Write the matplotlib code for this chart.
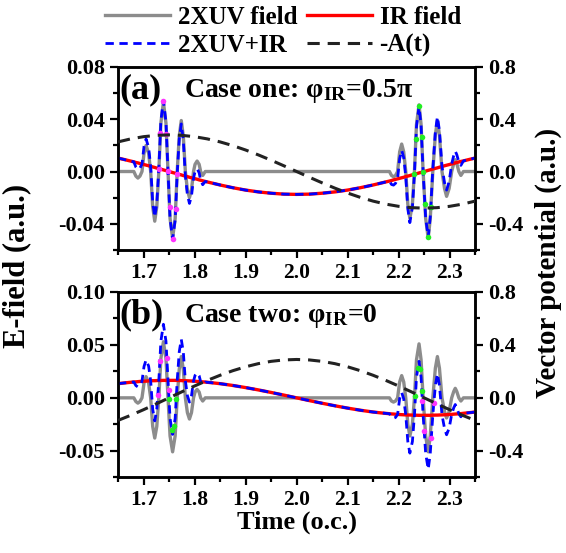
import numpy as np
import matplotlib.pyplot as plt
from matplotlib.ticker import MultipleLocator

plt.rcParams['font.family'] = ['Liberation Serif', 'DejaVu Serif']
plt.rcParams['font.weight'] = 'bold'
plt.rcParams['mathtext.fontset'] = 'custom'
plt.rcParams['mathtext.rm'] = 'Liberation Serif:bold'
plt.rcParams['mathtext.bf'] = 'Liberation Serif:bold'
plt.rcParams['mathtext.it'] = 'Liberation Serif:bold'

# time axis (o.c.): sparse outside the two XUV pulses, dense inside them
time_pts = [1.650, 1.665,
            1.681, 1.685, 1.689, 1.693, 1.697, 1.701, 1.705, 1.710, 1.714, 1.718, 1.722, 1.726,
            1.730, 1.734, 1.739, 1.744, 1.748, 1.752, 1.757, 1.762, 1.766, 1.770, 1.774, 1.778,
            1.782, 1.786, 1.790, 1.794, 1.798, 1.801, 1.805, 1.809, 1.812, 1.816, 1.821,
            1.835, 1.850, 1.875, 1.900, 1.925, 1.950, 1.975, 2.000, 2.025, 2.050, 2.075, 2.100,
            2.125, 2.150, 2.165,
            2.182, 2.186, 2.190, 2.194, 2.198, 2.202, 2.206, 2.210, 2.214, 2.218, 2.222, 2.227,
            2.231, 2.235, 2.240, 2.244, 2.248, 2.253, 2.258, 2.262, 2.267, 2.272, 2.276, 2.280,
            2.285, 2.290, 2.294, 2.299, 2.304, 2.308, 2.311, 2.314, 2.318, 2.322, 2.327,
            2.335, 2.350]

# 2XUV field (a.u.)
xuv_field = [0, 0,
             0, -0.0035, -0.005, -0.0035, 0, 0.014, 0.020, 0.014, 0, -0.027, -0.038, -0.027,
             0, 0.037, 0.053, 0.037, 0, -0.036, -0.051, -0.036, 0, 0.027, 0.039, 0.027,
             0, -0.014, -0.020, -0.014, 0, 0.0055, 0.008, 0.0055, 0, -0.003, 0,
             0, 0, 0, 0, 0, 0, 0, 0, 0, 0, 0, 0,
             0, 0, 0,
             0, -0.003, -0.004, -0.003, 0, 0.015, 0.021, 0.015, 0, -0.025, -0.036, -0.025,
             0, 0.036, 0.051, 0.036, 0, -0.036, -0.051, -0.036, 0, 0.028, 0.039, 0.028,
             0, -0.013, -0.019, -0.013, 0, 0.006, 0.009, 0.006, 0, -0.003, 0,
             0, 0]

# IR field, case one (phi_IR = 0.5 pi)
ir_field_a = [0.0103, 0.0089,
              0.0074, 0.0069, 0.0066, 0.0061, 0.0057, 0.0053, 0.0049, 0.0044, 0.0039, 0.0035,
              0.0031, 0.0026, 0.0022, 0.0018, 0.0012, 0.0007, 0.0002, -0.0002, -0.0008,
              -0.0013, -0.0018, -0.0022, -0.0026, -0.0031, -0.0035, -0.0039, -0.0044, -0.0048,
              -0.0052, -0.0055, -0.0059, -0.0064, -0.0067, -0.0071, -0.0076,
              -0.0089, -0.0103, -0.0124, -0.0142, -0.0156, -0.0166, -0.0173, -0.0175, -0.0173,
              -0.0166, -0.0156, -0.0142, -0.0124, -0.0103, -0.0089,
              -0.0073, -0.0069, -0.0064, -0.0060, -0.0056, -0.0052, -0.0048, -0.0044, -0.0039,
              -0.0035, -0.0031, -0.0025, -0.0021, -0.0017, -0.0011, -0.0007, -0.0002, 0.0003,
              0.0009, 0.0013, 0.0019, 0.0024, 0.0028, 0.0033, 0.0038, 0.0044, 0.0048, 0.0053,
              0.0058, 0.0062, 0.0066, 0.0069, 0.0073, 0.0077, 0.0081,
              0.0089, 0.0103]

# IR field, case two (phi_IR = 0)
ir_field_b = [0.0134, 0.0142,
              0.0150, 0.0151, 0.0153, 0.0155, 0.0156, 0.0157, 0.0158, 0.0160, 0.0161, 0.0162,
              0.0162, 0.0163, 0.0164, 0.0164, 0.0165, 0.0165, 0.0165, 0.0165, 0.0165, 0.0165,
              0.0164, 0.0164, 0.0163, 0.0162, 0.0162, 0.0161, 0.0160, 0.0159, 0.0158, 0.0157,
              0.0155, 0.0154, 0.0153, 0.0151, 0.0149,
              0.0142, 0.0134, 0.0117, 0.0097, 0.0075, 0.0051, 0.0026, 0.0, -0.0026, -0.0051,
              -0.0075, -0.0097, -0.0117, -0.0134, -0.0142,
              -0.0150, -0.0152, -0.0153, -0.0155, -0.0156, -0.0158, -0.0159, -0.0160, -0.0161,
              -0.0162, -0.0162, -0.0163, -0.0164, -0.0164, -0.0165, -0.0165, -0.0165, -0.0165,
              -0.0165, -0.0165, -0.0164, -0.0163, -0.0163, -0.0162, -0.0161, -0.0160, -0.0159,
              -0.0157, -0.0156, -0.0154, -0.0153, -0.0152, -0.0150, -0.0149, -0.0146,
              -0.0142, -0.0134]

# -A(t) on the right axis
time_vp = [1.650, 1.675, 1.700, 1.725, 1.750, 1.775, 1.800, 1.825, 1.850, 1.875, 1.900,
           1.925, 1.950, 1.975, 2.000, 2.025, 2.050, 2.075, 2.100, 2.125, 2.150, 2.175,
           2.200, 2.225, 2.250, 2.275, 2.300, 2.325, 2.350]
neg_vp_a = [0.2265, 0.2495, 0.2663, 0.2766, 0.2800, 0.2766, 0.2663, 0.2495, 0.2265, 0.1980,
            0.1646, 0.1271, 0.0865, 0.0438, 0.0, -0.0438, -0.0865, -0.1271, -0.1646, -0.1980,
            -0.2265, -0.2495, -0.2663, -0.2766, -0.2800, -0.2766, -0.2663, -0.2495, -0.2265]
neg_vp_b = [-0.1705, -0.1317, -0.0896, -0.0454, 0.0, 0.0454, 0.0896, 0.1317, 0.1705, 0.2051,
            0.2346, 0.2584, 0.2758, 0.2864, 0.2900, 0.2864, 0.2758, 0.2584, 0.2346, 0.2051,
            0.1705, 0.1317, 0.0896, 0.0454, 0.0, -0.0454, -0.0896, -0.1317, -0.1705]

# instants marked on the 2XUV+IR curve
mark_a_magenta = [1.739, 1.733, 1.745, 1.730, 1.748, 1.766, 1.751, 1.763, 1.757]
mark_a_green = [2.240, 2.234, 2.245, 2.231, 2.248, 2.2515, 2.263, 2.258]
mark_b_magenta = [1.732, 1.7457, 1.728, 1.749, 2.2465, 2.269, 2.250, 2.264]
mark_b_green = [1.750, 1.764, 1.7555, 1.7595, 2.238, 2.242, 2.233, 2.2455]

t = np.array(time_pts)
xuv = np.array(xuv_field)

fig = plt.figure(figsize=(5.66, 5.53), dpi=100)
ax_a = fig.add_axes([0.2085, 0.548, 0.631, 0.331])
ax_b = fig.add_axes([0.2085, 0.137, 0.631, 0.335])

panels = [
    (ax_a, np.array(ir_field_a), neg_vp_a, (-0.06, 0.08), 0.04, 0.02, '(a)',
     r'Case one: φ$_{\mathrm{IR}}$=0.5π', mark_a_magenta, mark_a_green),
    (ax_b, np.array(ir_field_b), neg_vp_b, (-0.075, 0.10), 0.05, 0.025, '(b)',
     r'Case two: φ$_{\mathrm{IR}}$=0', mark_b_magenta, mark_b_green),
]

for ax, ir, vp, ylim, major, minor, tag, title, m_mag, m_grn in panels:
    total = xuv + ir
    ax.plot(t, xuv, color='#8c8c8c', lw=2.4, zorder=2)
    ax.plot(t, ir, color='#ff0000', lw=2.4, zorder=3)
    ax.plot(t, total, color='#0000ff', lw=2.0, ls=(0, (3, 2)), zorder=4)
    ax.plot(m_mag, np.interp(m_mag, t, total), 'o', color='#ff33ff', ms=4, mec='none', zorder=6)
    ax.plot(m_grn, np.interp(m_grn, t, total), 'o', color='#22ee22', ms=4, mec='none', zorder=6)

    ax.set_xlim(1.65, 2.35)
    ax.set_ylim(*ylim)
    ax.xaxis.set_major_locator(MultipleLocator(0.1))
    ax.xaxis.set_minor_locator(MultipleLocator(0.05))
    ax.yaxis.set_major_locator(MultipleLocator(major))
    ax.yaxis.set_minor_locator(MultipleLocator(minor))
    ax.yaxis.set_major_formatter(plt.FormatStrFormatter('%.2f'))
    ax.tick_params(which='both', direction='out', top=False, right=False, labelsize=16, width=1.6)
    ax.tick_params(axis='x', labelsize=15.5)
    ax.tick_params(which='major', length=6)
    ax.tick_params(which='minor', length=3.5)
    for s in ax.spines.values():
        s.set_linewidth(1.8)

    ax2 = ax.twinx()
    ax2.plot(time_vp, vp, color='#222222', lw=2.2, ls=(0, (4, 2.6)), zorder=5)
    ax2.set_ylim(-0.6, 0.8)
    ax2.yaxis.set_major_locator(MultipleLocator(0.4))
    ax2.yaxis.set_minor_locator(MultipleLocator(0.2))
    ax2.yaxis.set_major_formatter(plt.FormatStrFormatter('%.1f'))
    ax2.tick_params(which='both', direction='out', labelsize=16, width=1.6)
    ax2.tick_params(which='major', length=6)
    ax2.tick_params(which='minor', length=3.5)
    for s in ax2.spines.values():
        s.set_linewidth(1.8)

    ax2.text(0.005, 0.875, tag, transform=ax.transAxes, fontsize=26, fontweight='bold', va='center')
    ax2.text(0.185, 0.87, title, transform=ax.transAxes, fontsize=20, fontweight='bold', va='center')

fig.text(0.03, 0.52, 'E-field (a.u.)', rotation=90, fontsize=22, fontweight='bold',
         ha='center', va='center')
fig.text(0.968, 0.525, 'Vector potential (a.u.)', rotation=90, fontsize=21, fontweight='bold',
         ha='center', va='center')
fig.text(0.525, 0.055, 'Time (o.c.)', fontsize=19, fontweight='bold', ha='center', va='center')

# legend handles
h_xuv, = ax_a.plot([], [], color='#8c8c8c', lw=2.4)
h_tot, = ax_a.plot([], [], color='#0000ff', lw=2.0, ls=(0, (3, 2)))
h_ir, = ax_a.plot([], [], color='#ff0000', lw=2.4)
h_vp, = ax_a.plot([], [], color='#222222', lw=2.2, ls=(0, (4, 2.6)))
fig.legend([h_xuv, h_tot, h_ir, h_vp], ['2XUV field', '2XUV+IR', 'IR field', '-A(t)'],
           ncol=2, loc='upper center', bbox_to_anchor=(0.5, 1.03), frameon=False,
           fontsize=18, handlelength=2.6, handletextpad=0.3, columnspacing=0.4,
           labelspacing=0.2)

fig.savefig('out.png', dpi=100)
